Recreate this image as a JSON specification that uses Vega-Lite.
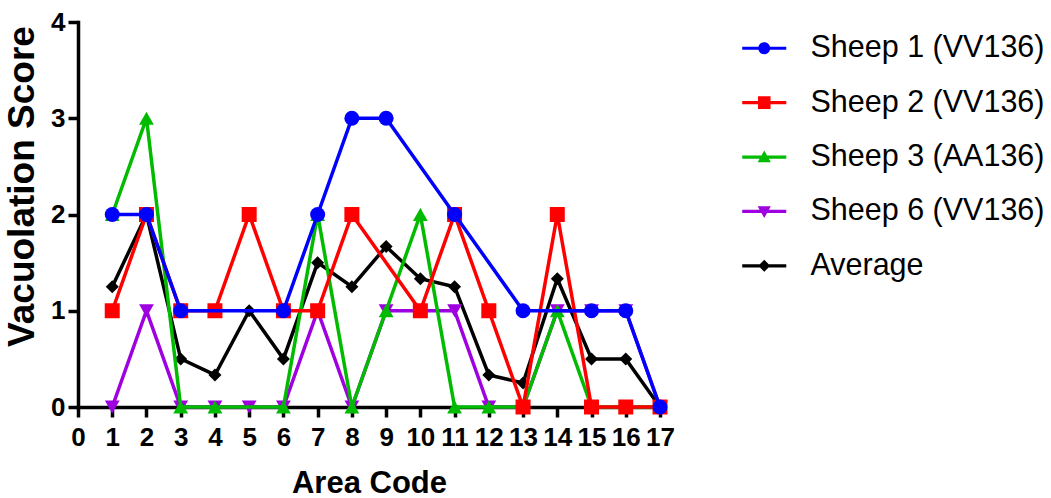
{
  "$schema": "https://vega.github.io/schema/vega-lite/v6.json",
  "width": 582,
  "height": 385,
  "autosize": "none",
  "padding": {"left": 78, "top": 22, "right": 391, "bottom": 91},
  "background": "white",
  "config": {
    "view": {"stroke": null},
    "font": "Liberation Sans",
    "legend": {"labelFont": "Liberation Sans"},
    "axis": {"domainCap": "square"}
  },
  "data": {
    "values": [
      {"series": "Sheep 1 (VV136)", "area": 1, "score": 2},
      {"series": "Sheep 1 (VV136)", "area": 2, "score": 2},
      {"series": "Sheep 1 (VV136)", "area": 3, "score": 1},
      {"series": "Sheep 1 (VV136)", "area": 6, "score": 1},
      {"series": "Sheep 1 (VV136)", "area": 7, "score": 2},
      {"series": "Sheep 1 (VV136)", "area": 8, "score": 3},
      {"series": "Sheep 1 (VV136)", "area": 9, "score": 3},
      {"series": "Sheep 1 (VV136)", "area": 11, "score": 2},
      {"series": "Sheep 1 (VV136)", "area": 13, "score": 1},
      {"series": "Sheep 1 (VV136)", "area": 15, "score": 1},
      {"series": "Sheep 1 (VV136)", "area": 16, "score": 1},
      {"series": "Sheep 1 (VV136)", "area": 17, "score": 0},
      {"series": "Sheep 2 (VV136)", "area": 1, "score": 1},
      {"series": "Sheep 2 (VV136)", "area": 2, "score": 2},
      {"series": "Sheep 2 (VV136)", "area": 3, "score": 1},
      {"series": "Sheep 2 (VV136)", "area": 4, "score": 1},
      {"series": "Sheep 2 (VV136)", "area": 5, "score": 2},
      {"series": "Sheep 2 (VV136)", "area": 6, "score": 1},
      {"series": "Sheep 2 (VV136)", "area": 7, "score": 1},
      {"series": "Sheep 2 (VV136)", "area": 8, "score": 2},
      {"series": "Sheep 2 (VV136)", "area": 10, "score": 1},
      {"series": "Sheep 2 (VV136)", "area": 11, "score": 2},
      {"series": "Sheep 2 (VV136)", "area": 12, "score": 1},
      {"series": "Sheep 2 (VV136)", "area": 13, "score": 0},
      {"series": "Sheep 2 (VV136)", "area": 14, "score": 2},
      {"series": "Sheep 2 (VV136)", "area": 15, "score": 0},
      {"series": "Sheep 2 (VV136)", "area": 16, "score": 0},
      {"series": "Sheep 2 (VV136)", "area": 17, "score": 0},
      {"series": "Sheep 3 (AA136)", "area": 1, "score": 2},
      {"series": "Sheep 3 (AA136)", "area": 2, "score": 3},
      {"series": "Sheep 3 (AA136)", "area": 3, "score": 0},
      {"series": "Sheep 3 (AA136)", "area": 4, "score": 0},
      {"series": "Sheep 3 (AA136)", "area": 6, "score": 0},
      {"series": "Sheep 3 (AA136)", "area": 7, "score": 2},
      {"series": "Sheep 3 (AA136)", "area": 8, "score": 0},
      {"series": "Sheep 3 (AA136)", "area": 9, "score": 1},
      {"series": "Sheep 3 (AA136)", "area": 10, "score": 2},
      {"series": "Sheep 3 (AA136)", "area": 11, "score": 0},
      {"series": "Sheep 3 (AA136)", "area": 12, "score": 0},
      {"series": "Sheep 3 (AA136)", "area": 13, "score": 0},
      {"series": "Sheep 3 (AA136)", "area": 14, "score": 1},
      {"series": "Sheep 3 (AA136)", "area": 15, "score": 0},
      {"series": "Sheep 3 (AA136)", "area": 16, "score": 0},
      {"series": "Sheep 3 (AA136)", "area": 17, "score": 0},
      {"series": "Sheep 6 (VV136)", "area": 1, "score": 0},
      {"series": "Sheep 6 (VV136)", "area": 2, "score": 1},
      {"series": "Sheep 6 (VV136)", "area": 3, "score": 0},
      {"series": "Sheep 6 (VV136)", "area": 4, "score": 0},
      {"series": "Sheep 6 (VV136)", "area": 5, "score": 0},
      {"series": "Sheep 6 (VV136)", "area": 6, "score": 0},
      {"series": "Sheep 6 (VV136)", "area": 7, "score": 1},
      {"series": "Sheep 6 (VV136)", "area": 8, "score": 0},
      {"series": "Sheep 6 (VV136)", "area": 9, "score": 1},
      {"series": "Sheep 6 (VV136)", "area": 10, "score": 1},
      {"series": "Sheep 6 (VV136)", "area": 11, "score": 1},
      {"series": "Sheep 6 (VV136)", "area": 12, "score": 0},
      {"series": "Sheep 6 (VV136)", "area": 13, "score": 0},
      {"series": "Sheep 6 (VV136)", "area": 14, "score": 1},
      {"series": "Sheep 6 (VV136)", "area": 15, "score": 1},
      {"series": "Sheep 6 (VV136)", "area": 16, "score": 1},
      {"series": "Sheep 6 (VV136)", "area": 17, "score": 0},
      {"series": "Average", "area": 1, "score": 1.25},
      {"series": "Average", "area": 2, "score": 2},
      {"series": "Average", "area": 3, "score": 0.5},
      {"series": "Average", "area": 4, "score": 0.333},
      {"series": "Average", "area": 5, "score": 1},
      {"series": "Average", "area": 6, "score": 0.5},
      {"series": "Average", "area": 7, "score": 1.5},
      {"series": "Average", "area": 8, "score": 1.25},
      {"series": "Average", "area": 9, "score": 1.667},
      {"series": "Average", "area": 10, "score": 1.333},
      {"series": "Average", "area": 11, "score": 1.25},
      {"series": "Average", "area": 12, "score": 0.333},
      {"series": "Average", "area": 13, "score": 0.25},
      {"series": "Average", "area": 14, "score": 1.333},
      {"series": "Average", "area": 15, "score": 0.5},
      {"series": "Average", "area": 16, "score": 0.5},
      {"series": "Average", "area": 17, "score": 0}
    ]
  },
  "encoding": {
    "x": {
      "field": "area",
      "type": "quantitative",
      "scale": {"domain": [0, 17], "nice": false, "zero": false},
      "axis": {
        "title": "Area Code",
        "values": [0, 1, 2, 3, 4, 5, 6, 7, 8, 9, 10, 11, 12, 13, 14, 15, 16, 17],
        "grid": false,
        "labelOverlap": false,
        "labelFlush": false,
        "labelFontSize": 26,
        "labelFontWeight": "bold",
        "labelColor": "black",
        "labelPadding": 7,
        "tickSize": 10,
        "tickWidth": 3.5,
        "tickColor": "#000000",
        "domainWidth": 3.5,
        "domainColor": "#000000",
        "titleFontSize": 31,
        "titleFontWeight": "bold",
        "titleColor": "black",
        "titleBaseline": "alphabetic",
        "titleY": 85
      }
    },
    "y": {
      "field": "score",
      "type": "quantitative",
      "scale": {"domain": [0, 4], "nice": false},
      "axis": {
        "title": "Vacuolation Score",
        "values": [0, 1, 2, 3, 4],
        "grid": false,
        "labelFontSize": 26,
        "labelFontWeight": "bold",
        "labelColor": "black",
        "labelPadding": 3,
        "tickSize": 10,
        "tickWidth": 3.5,
        "tickColor": "#000000",
        "domainWidth": 3.5,
        "domainColor": "#000000",
        "titleFontSize": 37,
        "titleFontWeight": "bold",
        "titleColor": "black",
        "titleBaseline": "alphabetic",
        "titleAlign": "center",
        "titleAngle": -90,
        "titleX": -45,
        "titleY": 164
      }
    }
  },
  "layer": [
    {
      "transform": [{"filter": "datum.series === 'Average'"}],
      "mark": {"type": "line", "color": "#000000", "strokeWidth": 3.5,
        "point": {"shape": "diamond", "size": 169, "filled": true, "color": "#000000", "opacity": 1}}
    },
    {
      "transform": [{"filter": "datum.series === 'Sheep 6 (VV136)'"}],
      "mark": {"type": "line", "color": "#9E00E0", "strokeWidth": 3.5,
        "point": {"shape": "triangle-down", "size": 220, "filled": true, "color": "#9E00E0", "opacity": 1}}
    },
    {
      "transform": [{"filter": "datum.series === 'Sheep 3 (AA136)'"}],
      "mark": {"type": "line", "color": "#00BB00", "strokeWidth": 3.5,
        "point": {"shape": "triangle-up", "size": 220, "filled": true, "color": "#00BB00", "opacity": 1}}
    },
    {
      "transform": [{"filter": "datum.series === 'Sheep 2 (VV136)'"}],
      "mark": {"type": "line", "color": "#FF0000", "strokeWidth": 3.5,
        "point": {"shape": "square", "size": 225, "filled": true, "color": "#FF0000", "opacity": 1}}
    },
    {
      "transform": [{"filter": "datum.series === 'Sheep 1 (VV136)'"}],
      "mark": {"type": "line", "color": "#0000FF", "strokeWidth": 3.5,
        "point": {"shape": "circle", "size": 225, "filled": true, "color": "#0000FF", "opacity": 1}}
    },
    {
      "mark": {"type": "point", "filled": true, "opacity": 0},
      "encoding": {
        "color": {
          "field": "series",
          "type": "nominal",
          "scale": {
            "domain": ["Sheep 1 (VV136)", "Sheep 2 (VV136)", "Sheep 3 (AA136)", "Sheep 6 (VV136)", "Average"],
            "range": ["#0000FF", "#FF0000", "#00BB00", "#9E00E0", "#000000"]
          },
          "legend": {
            "title": null,
            "orient": "none",
            "legendX": 671,
            "legendY": 11,
            "padding": 0,
            "labelFontSize": 30.5,
            "labelColor": "black",
            "labelOffset": 31,
            "labelLimit": 400,
            "symbolSize": 144,
            "symbolStrokeWidth": 0,
            "symbolOpacity": 1,
            "rowPadding": 23.4,
            "encode": {"symbols": {"update": {"opacity": {"value": 1}, "fillOpacity": {"value": 1}}}}
          }
        },
        "shape": {
          "field": "series",
          "type": "nominal",
          "scale": {
            "domain": ["Sheep 1 (VV136)", "Sheep 2 (VV136)", "Sheep 3 (AA136)", "Sheep 6 (VV136)", "Average"],
            "range": [
              "M-3.67,-0.27H3.67V0.27H-3.67ZM1,0A1,1,0,1,1,-1,0A1,1,0,1,1,1,0Z",
              "M-3.67,-0.27H3.67V0.27H-3.67ZM-1.05,-1.05H1.05V1.05H-1.05Z",
              "M-3.67,-0.27H3.67V0.27H-3.67ZM0,-1.1L1.1,0.85L-1.1,0.85Z",
              "M-3.67,-0.27H3.67V0.27H-3.67ZM0,1.1L-1.1,-0.85L1.1,-0.85Z",
              "M-3.67,-0.27H3.67V0.27H-3.67ZM0,-1L1,0L0,1L-1,0Z"
            ]
          }
        }
      }
    }
  ]
}
